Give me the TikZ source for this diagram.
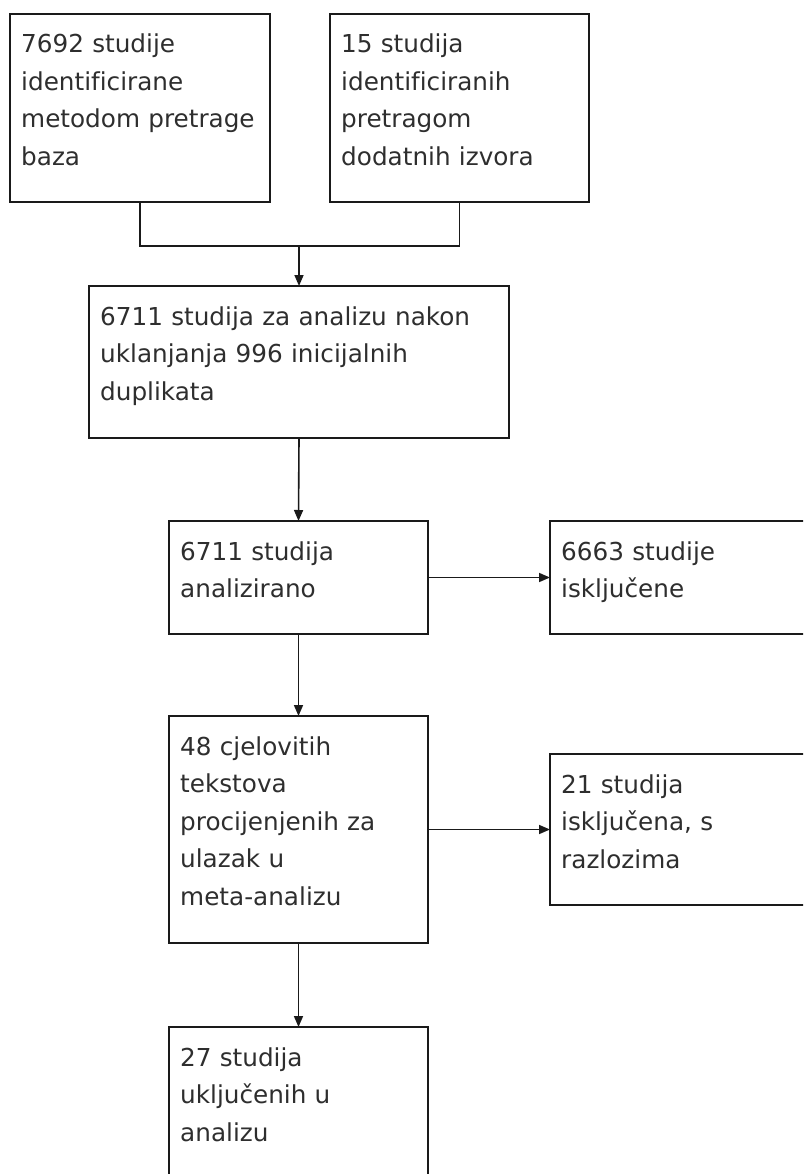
\documentclass[tikz,border=0pt]{standalone}
\usepackage{fontspec}
\setmainfont{DejaVu Sans}[Ligatures=NoCommon]
\usetikzlibrary{shapes.misc,arrows.meta,calc}
\definecolor{txt}{HTML}{2E2E2E}
\definecolor{ln}{HTML}{1A1A1A}
\tikzset{
  box/.style={draw=ln, line width=1.6pt, chamfered rectangle, chamfered rectangle xsep=4pt, chamfered rectangle ysep=4pt, inner sep=0pt, outer sep=0pt},
  lbl/.style={anchor=base west, inner sep=0pt, text width=420pt, align=left, text=txt, font=\fontsize{24.7}{37.5}\selectfont},
  conn/.style={draw=ln, line width=1.6pt},
  arr/.style={conn, -{Triangle[length=11pt,width=9pt]}}
}
\begin{document}
\begin{tikzpicture}[x=1pt,y=-1pt]
\useasboundingbox (0,0) rectangle (803,1174);
\clip (0,0) rectangle (803,1174);
\node[box, minimum width=260pt, minimum height=188pt] (A) at (140,108) {};
\node[box, minimum width=259pt, minimum height=188pt] (B) at (459.5,108) {};
\node[box, minimum width=420pt, minimum height=152pt] (C) at (299,362) {};
\node[box, minimum width=259pt, minimum height=113pt] (D) at (298.5,577.5) {};
\node[box, minimum width=300pt, minimum height=113pt] (E) at (700,577.5) {};
\node[box, minimum width=259pt, minimum height=227pt] (F) at (298.5,829.5) {};
\node[box, minimum width=300pt, minimum height=151pt] (G) at (700,829.5) {};
\node[box, minimum width=259pt, minimum height=173pt] (H) at (298.5,1113.5) {};

\node[lbl] (tA) at ($(A.west |- A.north)+(11,39)$) {7692 studije\\identificirane\\metodom pretrage\\baza};
\node[lbl] (tB) at ($(B.west |- B.north)+(11,39)$) {15 studija\\identificiranih\\pretragom\\dodatnih izvora};
\node[lbl] (tC) at ($(C.west |- C.north)+(11,39)$) {6711 studija za analizu nakon\\uklanjanja 996 inicijalnih\\duplikata};
\node[lbl] (tD) at ($(D.west |- D.north)+(11,39)$) {6711 studija\\analizirano};
\node[lbl] (tE) at ($(E.west |- E.north)+(11,39)$) {6663 studije\\isključene};
\node[lbl] (tF) at ($(F.west |- F.north)+(11,39)$) {48 cjelovitih\\tekstova\\procijenjenih za\\ulazak u\\meta-analizu};
\node[lbl] (tG) at ($(G.west |- G.north)+(11,39)$) {21 studija\\isključena, s\\razlozima};
\node[lbl] (tH) at ($(H.west |- H.north)+(11,39)$) {27 studija\\uključenih u\\analizu};

\coordinate (m) at (C.north |- 0,246);
\draw[conn] (A.south) |- (m) -| (B.south);
\draw[arr] (m) -- (C.north);
\draw[arr] (C.south) -- (D.north);
\draw[arr] (D.east) -- (E.west);
\draw[arr] (D.south) -- (F.north);
\draw[arr] (F.east) -- (G.west);
\draw[arr] (F.south) -- (H.north);
\end{tikzpicture}
\end{document}
